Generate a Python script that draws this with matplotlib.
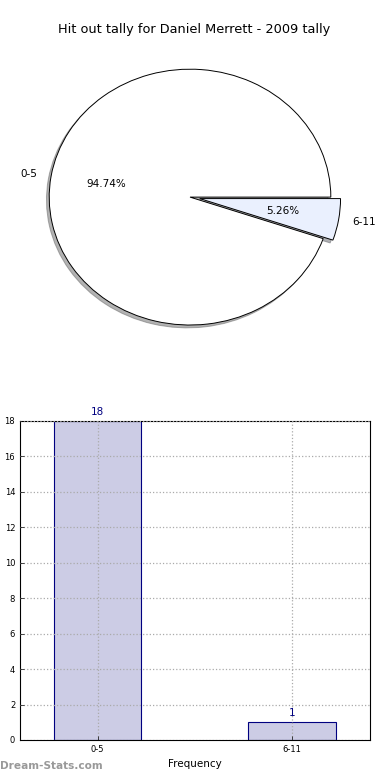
import matplotlib
matplotlib.use('Agg')
import matplotlib.pyplot as plt

# data
categories = ['0-5', '6-11']
counts = [18, 1]
pie_colors = ['#ffffff', '#eaf0fe']

fig = plt.figure(figsize=(3.9, 7.8), dpi=100)

#pie chart
ax1 = fig.add_axes([0.0359, 0.5423, 0.9026, 0.410])
ax1.pie(counts, labels=categories, colors=pie_colors, explode=[0, 0.07],
        autopct='%.2f%%', shadow={'ox': -0.014, 'oy': -0.016, 'shade': 0.6},
        startangle=0,
        wedgeprops={'edgecolor': 'black', 'linewidth': 0.7},
        textprops={'fontsize': 7.5})
ax1.set_aspect('auto')
ax1.set_xlim(-1.25, 1.25)
ax1.set_ylim(-1.25, 1.25)
fig.text(0.497, 0.962, 'Hit out tally for Daniel Merrett - 2009 tally',
         ha='center', va='center', fontsize=9.3)

#bar chart
ax2 = fig.add_axes([0.0513, 0.0513, 0.897, 0.409])
x = range(len(categories))
ax2.bar(x, counts, width=0.45, color='#ccccE5', edgecolor='#000080', linewidth=0.8, zorder=1)
for i, c in enumerate(counts):
    ax2.text(i, c + 0.25, str(c), ha='center', va='bottom', color='#000080', fontsize=7.5)
ax2.set_xlim(-0.4, 1.4)
ax2.set_ylim(0, 18)
ax2.set_yticks(range(0, 19, 2))
ax2.set_xticks(list(x))
ax2.set_xticklabels(categories)
ax2.tick_params(labelsize=6, direction='in', length=3, width=0.5)
ax2.set_axisbelow(False)
ax2.grid(True, linestyle=':', color='#aaaaaa', linewidth=0.9, zorder=3)
for s in ax2.spines.values():
    s.set_linewidth(0.8)
ax2.set_xlabel('Frequency', fontsize=7.5, labelpad=4)
ax2.set_ylabel('No. of games', fontsize=7)
ax2.yaxis.set_label_coords(-0.06, 0.5)

fig.text(0.0, 0.012, 'Dream-Stats.com', color='#999999', fontsize=7.6,
         fontweight='bold', ha='left', va='bottom')

fig.savefig('out.png', dpi=100)
